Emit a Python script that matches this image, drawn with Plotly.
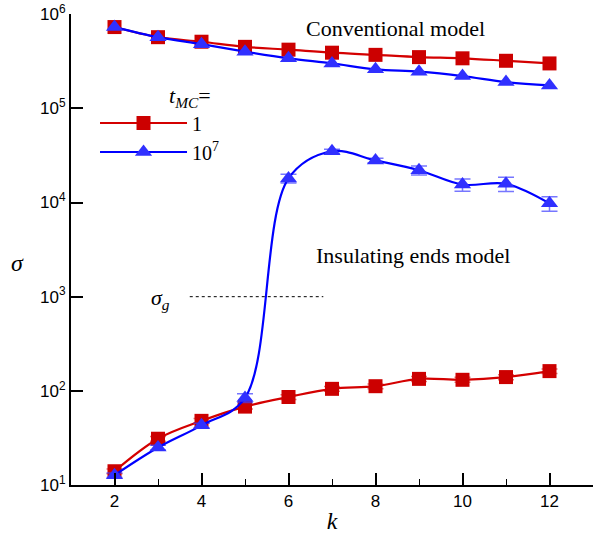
import plotly.graph_objects as go

k = [2, 3, 4, 5, 6, 7, 8, 9, 10, 11, 12]

# Conventional model
conv_t1 = [7.3e5, 5.7e5, 5.1e5, 4.5e5, 4.2e5, 3.9e5, 3.7e5, 3.5e5, 3.4e5, 3.2e5, 3.0e5]
conv_t7 = [7.3e5, 5.7e5, 4.8e5, 4.0e5, 3.4e5, 3.0e5, 2.6e5, 2.45e5, 2.2e5, 1.9e5, 1.75e5]

# Insulating ends model
ins_t1 = [14, 31, 48, 68, 86, 105, 112, 134, 131, 140, 162]
ins_t1_err = [0.8, 1.8, 2.8, 4, 5, 6, 6.5, 8, 8, 8.5, 9]
ins_t7 = [12.7, 25, 43, 84, 1.8e4, 3.5e4, 2.8e4, 2.2e4, 1.55e4, 1.58e4, 9.8e3]
ins_t7_err = [0.7, 1.4, 2.4, 9, 1900, 1800, 1500, 2400, 2300, 2700, 1700]

sigma_g = 1e3
sigma_g_k = [3.73, 6.8]

legend_names = ["1", "10<sup>7</sup>"]
y_ticks = [1e1, 1e2, 1e3, 1e4, 1e5, 1e6]
y_ticktext = ["10<sup>%d</sup>" % i for i in range(1, 7)]
x_ticks = [2, 4, 6, 8, 10, 12]

RED_L, RED_M, RED_E = "#D40000", "#CC0000", "rgba(220,60,60,0.7)"
BLU_L, BLU_M, BLU_E = "#0000FF", "#3030FF", "rgba(60,60,255,0.7)"

fig = go.Figure()

def add(y, color_l, color_m, symbol, name, show, err=None, ecolor=None):
    tr = dict(x=k, y=y, mode="lines+markers", name=name, legendgroup=name, showlegend=show,
              line=dict(color=color_l, width=2.2, shape="spline", smoothing=1.0),
              marker=dict(symbol=symbol, size=14 if symbol == "square" else 15, color=color_m,
                          line=dict(width=0)))
    if err is not None:
        tr["error_y"] = dict(type="data", array=err, color=ecolor, thickness=1.5, width=8)
    fig.add_trace(go.Scatter(**tr))

add(conv_t1, RED_L, RED_M, "square", legend_names[0], True)
add(conv_t7, BLU_L, BLU_M, "triangle-up", legend_names[1], True)
add(ins_t1, RED_L, RED_M, "square", legend_names[0], False, ins_t1_err, RED_E)
add(ins_t7, BLU_L, BLU_M, "triangle-up", legend_names[1], False, ins_t7_err, BLU_E)

fig.add_shape(type="line", x0=sigma_g_k[0], x1=sigma_g_k[1], y0=sigma_g, y1=sigma_g,
              xref="x", yref="y", line=dict(color="black", width=1, dash="dot"))

serif = "Liberation Serif"

def px_note(xp, yp, text, size):
    fig.add_annotation(x=(xp - 71) / 522, y=1 - (yp - 12) / 473.5, xref="paper", yref="paper",
                       xanchor="center", yanchor="middle", text=text, showarrow=False,
                       font=dict(family=serif, size=size, color="black"))

px_note(395, 27, "Conventional model", 22)
px_note(413, 255, "Insulating ends model", 22)
px_note(190, 95, "<i>t</i><sub><i>MC</i></sub>=", 22)
px_note(160, 299, "<i>σ</i><sub><i>g</i></sub>", 22)
px_note(17, 262, "<i>σ</i>", 24)

fig.update_layout(
    width=595, height=534,
    margin=dict(l=71, r=2, t=12, b=49),
    paper_bgcolor="white", plot_bgcolor="white",
    showlegend=True,
    legend=dict(x=0.046, y=0.81, xanchor="left", yanchor="top", itemwidth=87,
                font=dict(family=serif, size=20, color="black"), bgcolor="rgba(0,0,0,0)",
                tracegroupgap=0, itemsizing="trace"),
    xaxis=dict(range=[1, 13], tickvals=x_ticks, ticks="inside", ticklen=12, tickwidth=2,
               tickcolor="black", showline=True, linewidth=2, linecolor="black", showgrid=False,
               zeroline=False, tickfont=dict(family="Liberation Sans", size=17, color="black"),
               minor=dict(dtick=1, tick0=1, ticks="inside", ticklen=6, tickwidth=1, tickcolor="black"),
               title=dict(text="<i>k</i>", font=dict(family=serif, size=24, color="black"), standoff=4)),
    yaxis=dict(type="log", range=[1, 6.002], tickvals=y_ticks, ticktext=y_ticktext, ticks="inside",
               ticklen=12, tickwidth=2, tickcolor="black", showline=True, linewidth=2,
               linecolor="black", showgrid=False, zeroline=False,
               tickfont=dict(family="Liberation Sans", size=17, color="black")),
)

fig.write_html("out.html")
